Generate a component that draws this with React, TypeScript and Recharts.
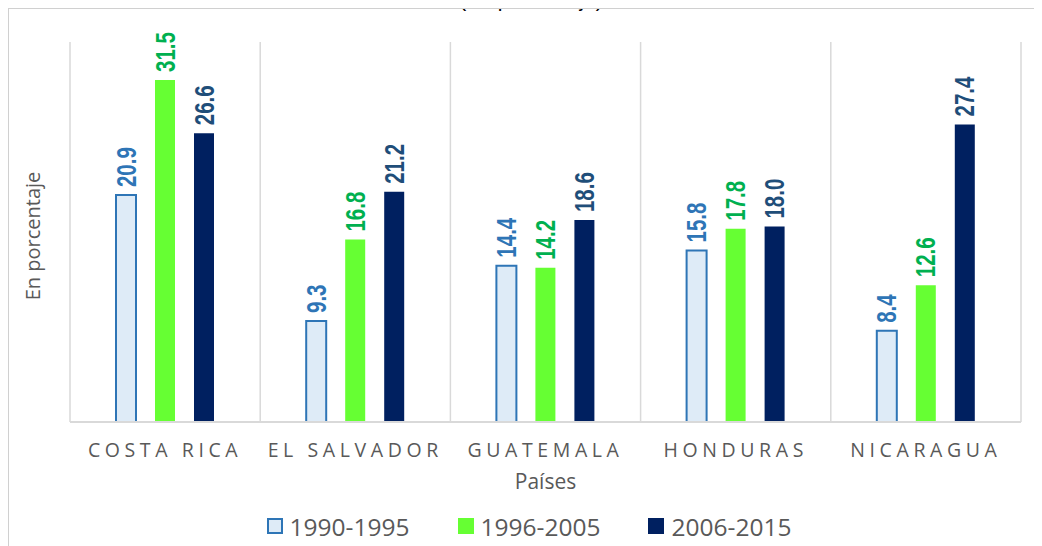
import { BarChart, Bar, XAxis, YAxis, CartesianGrid, Legend, LabelList, Label } from "recharts";

const categories = ["COSTA RICA", "EL SALVADOR", "GUATEMALA", "HONDURAS", "NICARAGUA"];
const serie1990 = [20.9, 9.3, 14.4, 15.8, 8.4];
const serie1996 = [31.5, 16.8, 14.2, 17.8, 12.6];
const serie2006 = [26.6, 21.2, 18.6, 18.0, 27.4];
const seriesNames = ["1990-1995", "1996-2005", "2006-2015"];
const yDomain = [0, 35];

const data = categories.map((pais, i) => ({
  pais,
  a: serie1990[i],
  b: serie1996[i],
  c: serie2006[i],
}));

const legendItems = [
  { name: seriesNames[0], fill: "#DEEBF7", stroke: "#2E75B6" },
  { name: seriesNames[1], fill: "#66FF33", stroke: "#66FF33" },
  { name: seriesNames[2], fill: "#002060", stroke: "#002060" },
];

const gray = "#595959";

const valueLabel = (color: string) => (props: any) => {
  const { x, y, width, value } = props;
  const cx = Number(x) + Number(width) / 2;
  const cy = Number(y) - 8;
  return (
    <text
      transform={`translate(${cx},${cy}) rotate(-90) scale(0.76,1)`}
      x={0}
      y={0}
      textAnchor="start"
      dominantBaseline="central"
      fill={color}
      fontFamily="'Liberation Sans', Arial, sans-serif"
      fontWeight={700}
      fontSize={27}
    >
      {Number(value).toFixed(1)}
    </text>
  );
};

const CategoryTick = (props: any) => {
  const { x, y, payload } = props;
  return (
    <text
      x={x}
      y={y + 27}
      textAnchor="middle"
      dominantBaseline="central"
      fill={gray}
      fontFamily="'Open Sans', sans-serif"
      fontSize={19.5}
      letterSpacing={4.6}
    >
      {payload.value}
    </text>
  );
};

const LegendContent = () => (
  <div
    style={{
      display: "flex",
      justifyContent: "center",
      alignItems: "center",
      height: 30,
      paddingLeft: 8,
      fontFamily: "'Open Sans', sans-serif",
      fontSize: 24.5,
      color: gray,
    }}
  >
    {legendItems.map((it, i) => (
      <div key={it.name} style={{ display: "flex", alignItems: "center", marginLeft: i ? 48 : 0 }}>
        <span
          style={{
            display: "inline-block",
            width: 16,
            height: 16,
            boxSizing: "border-box",
            background: it.fill,
            border: `2px solid ${it.stroke}`,
            marginRight: 7,
          }}
        />
        <span>{it.name}</span>
      </div>
    ))}
  </div>
);

export default function App() {
  return (
    <div style={{ position: "relative", width: 1034, height: 538 }}>
      <div
        style={{
          position: "absolute",
          top: -19,
          left: 0,
          width: 1046,
          textAlign: "center",
          fontFamily: "'Liberation Sans', Arial, sans-serif",
          fontSize: 21,
          lineHeight: "21px",
          color: "#000",
          whiteSpace: "nowrap",
        }}
      >
        (En porcentaje)
      </div>
      <div
        style={{
          position: "absolute",
          top: 0,
          left: 0,
          width: 1040,
          height: 545,
          borderTop: "1px solid #D0D0D0",
          borderLeft: "1px solid #D0D0D0",
        }}
      />
      <BarChart
        width={1034}
        height={538}
        data={data}
        margin={{ top: 34, right: 21, left: 22, bottom: 44 }}
        barSize={20}
        barGap={19}
      >
        <CartesianGrid
          horizontal={false}
          stroke="#D9D9D9"
          strokeWidth={1.5}
          verticalCoordinatesGenerator={({ offset }: any) =>
            Array.from({ length: categories.length + 1 }, (_, i) => offset.left + (i * offset.width) / categories.length)
          }
        />
        <XAxis
          dataKey="pais"
          height={80}
          tickLine={false}
          tickSize={0}
          tickMargin={0}
          axisLine={{ stroke: "#D9D9D9", strokeWidth: 2 }}
          tick={<CategoryTick />}
          interval={0}
        >
          <Label
            content={(p: any) => {
              const vb = p.viewBox;
              return (
                <text
                  x={vb.x + vb.width / 2}
                  y={vb.y + 59}
                  textAnchor="middle"
                  dominantBaseline="central"
                  fill={gray}
                  fontFamily="'Open Sans', sans-serif"
                  fontSize={21}
                >
                  Países
                </text>
              );
            }}
          />
        </XAxis>
        <YAxis width={40} domain={yDomain} tick={false} axisLine={false} tickLine={false}>
          <Label
            content={(p: any) => {
              const vb = p.viewBox;
              const cx = vb.x + vb.width - 38;
              const cy = vb.y + vb.height / 2 + 4;
              return (
                <text
                  x={cx}
                  y={cy}
                  transform={`rotate(-90 ${cx} ${cy})`}
                  textAnchor="middle"
                  dominantBaseline="central"
                  fill={gray}
                  fontFamily="'Open Sans', sans-serif"
                  fontSize={20}
                >
                  En porcentaje
                </text>
              );
            }}
          />
        </YAxis>
        <Legend
          verticalAlign="middle"
          align="center"
          layout="horizontal"
          wrapperStyle={{ top: 503, left: 0, width: 1034 }}
          content={<LegendContent />}
        />
        <Bar dataKey="a" name={seriesNames[0]} fill="#DEEBF7" stroke="#2E75B6" strokeWidth={2} isAnimationActive={false}>
          <LabelList dataKey="a" content={valueLabel("#2E75B6")} />
        </Bar>
        <Bar dataKey="b" name={seriesNames[1]} fill="#66FF33" isAnimationActive={false}>
          <LabelList dataKey="b" content={valueLabel("#00B050")} />
        </Bar>
        <Bar dataKey="c" name={seriesNames[2]} fill="#002060" isAnimationActive={false}>
          <LabelList dataKey="c" content={valueLabel("#1F4E79")} />
        </Bar>
      </BarChart>
    </div>
  );
}
